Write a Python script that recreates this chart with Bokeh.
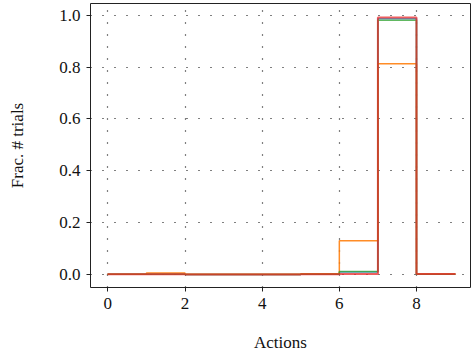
from bokeh.plotting import figure
from bokeh.models import Range1d, FixedTicker, CustomJSTickFormatter
from bokeh.embed import file_html
from bokeh.resources import INLINE

# Bin edges (actions) and fraction of trials per bin for each series
bin_edges = [0, 1, 2, 3, 4, 5, 6, 7, 8, 9]
series_blue = [0.001, 0.001, 0.0, 0.0, 0.0, 0.001, 0.010, 0.986, 0.001]
series_orange = [0.001, 0.006, 0.001, 0.001, 0.001, 0.003, 0.130, 0.813, 0.002]
series_green = [0.001, 0.001, 0.0, 0.0, 0.0, 0.001, 0.012, 0.980, 0.001]
series_red = [0.001, 0.001, 0.0, 0.0, 0.0, 0.001, 0.002, 0.991, 0.002]
x_ticks = [0, 2, 4, 6, 8]
y_ticks = [0.0, 0.2, 0.4, 0.6, 0.8, 1.0]

colors = ["#1f77b4", "#ff7f0e", "#2ca02c", "#e8282a"]
alphas = [0.75, 0.9, 0.75, 0.75]
widths = [1.5, 1.5, 1.5, 2.0]
all_series = [series_blue, series_orange, series_green, series_red]

FONT = "Liberation Serif"

p = figure(width=471, height=356, output_backend="svg", toolbar_location=None,
           x_range=Range1d(-0.45, 9.4), y_range=Range1d(-0.05, 1.045),
           min_border_left=90, min_border_right=1, min_border_top=3, min_border_bottom=69)
p.outline_line_color = "#222222"
p.outline_line_width = 1
p.background_fill_color = "white"
p.border_fill_color = "white"

def step_path(edges, heights):
    xs, ys = [edges[0]], [0.0]
    for i, h in enumerate(heights):
        xs += [edges[i], edges[i + 1]]
        ys += [h, h]
    xs.append(edges[-1])
    ys.append(0.0)
    return xs, ys

for vals, c, a, w in zip(all_series, colors, alphas, widths):
    xs, ys = step_path(bin_edges, vals)
    p.line(xs, ys, line_color=c, line_width=w, line_alpha=a)

p.xaxis.ticker = FixedTicker(ticks=x_ticks)
p.yaxis.ticker = FixedTicker(ticks=y_ticks)
p.yaxis.formatter = CustomJSTickFormatter(code="return tick.toFixed(1);")

for ax in (p.xaxis[0], p.yaxis[0]):
    ax.axis_line_color = None
    ax.major_tick_in = 0
    ax.major_tick_out = 4
    ax.major_tick_line_color = "#222222"
    ax.minor_tick_line_color = None
    ax.major_label_text_font = FONT
    ax.major_label_text_font_size = "17px"
    ax.major_label_text_color = "#111111"
    ax.axis_label_text_font = FONT
    ax.axis_label_text_font_size = "17px"
    ax.axis_label_text_font_style = "normal"
    ax.axis_label_text_color = "#111111"

p.xaxis.axis_label = "Actions"
p.yaxis.axis_label = "Frac. # trials"
p.xaxis.major_label_standoff = 6
p.yaxis.major_label_standoff = 6
p.xaxis.axis_label_standoff = 21
p.yaxis.axis_label_standoff = 29

for g in (p.xgrid[0], p.ygrid[0]):
    g.grid_line_color = "black"
    g.grid_line_width = 1.2
    g.grid_line_dash = "1 11"

open("out.html", "w").write(file_html(p, INLINE))
